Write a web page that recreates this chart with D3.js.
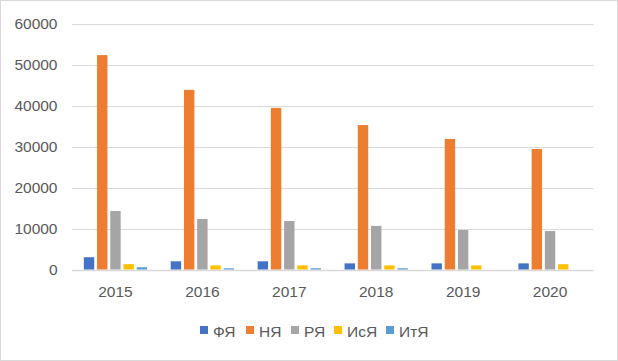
<!DOCTYPE html>
<html><head><meta charset="utf-8">
<script src="https://cdn.jsdelivr.net/npm/d3@7"></script>
<style>
body{margin:0;background:#fff;}
svg{display:block;font-family:"Liberation Sans","DejaVu Sans",sans-serif;}
</style></head>
<body>
<svg id="chart" width="618" height="361"></svg>
<script>
const categories = ["2015","2016","2017","2018","2019","2020"];
const seriesNames = ["ФЯ","НЯ","РЯ","ИсЯ","ИтЯ"];
const colors = ["#4472C4","#ED7D31","#A5A5A5","#FFC000","#5B9BD5"];
const FYa = [3000, 2000, 2000, 1500, 1500, 1500];
const NYa = [52400, 43900, 39500, 35300, 31900, 29450];
const RYa = [14300, 12350, 11850, 10650, 9650, 9400];
const IsYa = [1300, 1000, 1000, 1000, 1000, 1300];
const ItYa = [550, 300, 300, 300, 0, 0];
const yTicks = [0,10000,20000,30000,40000,50000,60000];
const seriesValues = [FYa, NYa, RYa, IsYa, ItYa];

const svg = d3.select("#chart");
svg.append("rect").attr("x",0.5).attr("y",0.5).attr("width",617).attr("height",360)
  .attr("fill","#fff").attr("stroke","#D9D9D9");

const mLeft = 72, mRight = 593.5, mTop = 24, mBottom = 269.5;
const x = d3.scaleBand().domain(categories).range([mLeft, mRight]).paddingInner(0).paddingOuter(0);
const y = d3.scaleLinear().domain([0,60000]).range([mBottom, mTop]);

// gridlines
svg.append("g").selectAll("line").data(yTicks).join("line")
  .attr("x1",mLeft).attr("x2",mRight)
  .attr("y1",d=>Math.round(y(d))+0.5).attr("y2",d=>Math.round(y(d))+0.5)
  .attr("stroke","#D9D9D9").attr("stroke-width",d=>d===0?1.5:1);

// y labels
const yAxis = d3.axisLeft(y).tickValues(yTicks).tickSize(0).tickPadding(0).tickFormat(d3.format("d"));
const gy = svg.append("g").attr("transform",`translate(57.5,0)`).call(yAxis);
gy.select(".domain").remove();
gy.selectAll("text").attr("fill","#595959").attr("font-size","15.5px").attr("font-family","Liberation Sans");

// x labels
const xAxis = d3.axisBottom(x).tickSize(0).tickPadding(0);
const gx = svg.append("g").attr("transform",`translate(0,286)`).call(xAxis);
gx.select(".domain").remove();
gx.selectAll("text").attr("fill","#595959").attr("font-size","15.5px").attr("font-family","Liberation Sans");

// bars
const inner = d3.scaleBand().domain(seriesNames).range([0, x.bandwidth()]).paddingInner(0.212).paddingOuter(0.895);
categories.forEach((c,i)=>{
  seriesNames.forEach((s,j)=>{
    const v = seriesValues[j][i];
    if (v<=0) return;
    svg.append("rect")
      .attr("x", x(c)+inner(s))
      .attr("width", inner.bandwidth())
      .attr("y", y(v))
      .attr("height", mBottom - y(v))
      .attr("fill", colors[j]);
  });
});

// legend
const legendX = [200, 246, 291, 334, 386];
const lg = svg.append("g");
seriesNames.forEach((s,j)=>{
  lg.append("rect").attr("x",legendX[j]).attr("y",326).attr("width",8).attr("height",8).attr("fill",colors[j]);
  lg.append("text").attr("x",legendX[j]+13).attr("y",336.5).attr("font-size","15.5px").attr("fill","#595959").text(s);
});
</script>
</body></html>
